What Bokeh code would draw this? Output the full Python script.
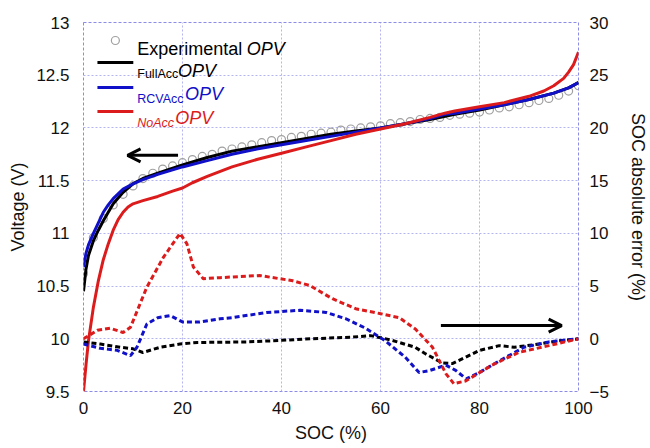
from bokeh.plotting import figure
from bokeh.models import (Range1d, LinearAxis, FixedTicker, Arrow, OpenHead, Label)
from bokeh.embed import file_html
from bokeh.resources import INLINE

# ---- terminal voltage curves (left axis, V) ----
soc_full = [0, 0.5, 1, 2, 3, 4, 5, 6, 8, 10, 12, 15, 20, 25, 30, 35, 40, 45, 50, 55,
            60, 65, 70, 75, 80, 85, 90, 95, 98, 100]
v_full = [10.45, 10.66, 10.79, 10.93, 11.03, 11.12, 11.20, 11.28, 11.39, 11.47, 11.52,
          11.57, 11.65, 11.72, 11.78, 11.82, 11.86, 11.90, 11.94, 11.97, 12.00, 12.04,
          12.08, 12.13, 12.17, 12.22, 12.27, 12.33, 12.38, 12.43]

soc_rcv = [0, 0.5, 1, 2, 3, 4, 5, 6, 8, 10, 12, 15, 20, 25, 30, 35, 40, 45, 50, 55,
           60, 65, 70, 73, 75, 80, 85, 90, 95, 98, 100]
v_rcv = [10.68, 10.81, 10.89, 11.00, 11.10, 11.20, 11.27, 11.33, 11.42, 11.47, 11.51,
         11.56, 11.63, 11.69, 11.75, 11.80, 11.84, 11.88, 11.92, 11.96, 12.00, 12.04,
         12.09, 12.13, 12.14, 12.18, 12.22, 12.27, 12.33, 12.38, 12.43]

soc_no = [0, 0.5, 1, 2, 3, 4, 5, 6, 7, 8, 9, 10, 12, 15, 18, 20, 22, 25, 30, 35, 40,
          45, 50, 55, 60, 65, 70, 73, 75, 80, 85, 90, 93, 95, 97, 98, 99, 100]
v_no = [9.50, 9.75, 9.98, 10.30, 10.55, 10.75, 10.90, 11.03, 11.13, 11.20, 11.25, 11.28,
        11.31, 11.35, 11.40, 11.43, 11.48, 11.54, 11.63, 11.70, 11.76, 11.82, 11.88,
        11.94, 11.99, 12.04, 12.10, 12.14, 12.16, 12.20, 12.24, 12.30, 12.35, 12.40,
        12.47, 12.53, 12.60, 12.72]

soc_exp = [0, 2, 4, 6, 8, 10, 12, 14, 16, 18, 20, 22, 24, 26, 28, 30, 32, 34, 36, 38,
           40, 42, 44, 46, 48, 50, 52, 54, 56, 58, 60, 62, 64, 66, 68, 70, 72, 74, 76,
           78, 80, 82, 84, 86, 88, 90, 92, 94, 96, 98, 100]
v_exp = [10.62, 10.96, 11.14, 11.27, 11.37, 11.45, 11.52, 11.57, 11.61, 11.64, 11.67,
         11.70, 11.73, 11.75, 11.78, 11.80, 11.82, 11.84, 11.86, 11.88, 11.89, 11.91,
         11.92, 11.94, 11.95, 11.96, 11.98, 11.99, 12.00, 12.01, 12.02, 12.04, 12.05,
         12.06, 12.08, 12.09, 12.10, 12.12, 12.13, 12.14, 12.15, 12.17, 12.19, 12.20,
         12.22, 12.24, 12.26, 12.28, 12.31, 12.35, 12.40]

# ---- SOC absolute error (right axis, %) ----
soc_err_full = [0, 3.4, 7.4, 10, 12, 15.5, 19.5, 23, 33, 40, 46, 54, 58, 62, 67, 69,
                72.5, 74.5, 77, 80, 84, 87, 92, 96, 100]
err_full = [-0.3, -0.5, -0.8, -0.95, -1.3, -0.8, -0.5, -0.35, -0.3, -0.15, 0.0, 0.15,
            0.3, -0.1, -0.8, -1.4, -2.3, -2.35, -1.8, -1.1, -0.65, -0.8, -0.5, -0.2, 0.0]

soc_err_rcv = [0, 3.4, 6.8, 9.5, 10.8, 12.8, 15, 17.5, 20, 23.5, 27.6, 30, 37, 43.7, 49,
               53, 57, 61, 65, 67.8, 70, 73.2, 75.2, 77.3, 80, 84, 89, 94, 100]
err_rcv = [-0.5, -0.9, -1.1, -1.6, -0.8, 1.4, 2.0, 2.2, 1.6, 1.6, 1.9, 2.0, 2.5, 2.7,
           2.5, 1.9, 1.0, -0.2, -1.75, -3.2, -3.0, -2.5, -3.0, -3.8, -3.2, -2.1, -0.8,
           -0.3, 0.0]

soc_err_no = [0, 2.8, 5.4, 8, 9.5, 12.8, 16.1, 19.5, 20.9, 22.2, 24.2, 27.6, 35.6, 42.3,
              45.7, 50.3, 55, 59.8, 63.8, 67.1, 70.5, 73.2, 74.8, 77.2, 82.5, 87.9, 94,
              100]
err_no = [0.0, 0.8, 1.0, 0.6, 1.1, 4.9, 7.7, 10.0, 9.0, 6.8, 5.7, 5.8, 6.0, 5.5, 5.05,
          3.8, 2.85, 2.4, 2.0, 0.9, -0.8, -3.3, -4.25, -4.0, -2.5, -1.3, -0.65, 0.0]

x_ticks = [0, 20, 40, 60, 80, 100]
v_ticks = [9.5, 10, 10.5, 11, 11.5, 12, 12.5, 13]
v_tick_labels = ["9.5", "10", "10.5", "11", "11.5", "12", "12.5", "13"]
err_ticks = [-5, 0, 5, 10, 15, 20, 25, 30]

BLACK = "#000000"
BLUE = "#1010c8"
RED = "#dc1c1c"
GRID = "#b4b4f0"
FONT = "Liberation Sans"

W, H = 650, 448
LEFT, RIGHT, TOP, BOTTOM = 83, 70, 22, 57

p = figure(width=W, height=H, output_backend="svg", toolbar_location=None,
           x_range=Range1d(0, 100), y_range=Range1d(9.5, 13),
           min_border_left=LEFT, min_border_right=RIGHT,
           min_border_top=TOP, min_border_bottom=BOTTOM)
p.extra_y_ranges = {"err": Range1d(-5, 30)}

p.outline_line_color = "#8c8ce6"
p.outline_line_dash = "3 2"
p.outline_line_width = 1

for g in (p.xgrid, p.ygrid):
    g.grid_line_color = GRID
    g.grid_line_dash = "2 2"
    g.grid_line_width = 1
p.xgrid.ticker = FixedTicker(ticks=x_ticks)
p.ygrid.ticker = FixedTicker(ticks=v_ticks)

def style_axis(ax):
    ax.axis_line_color = None
    ax.major_tick_line_color = None
    ax.minor_tick_line_color = None
    ax.major_tick_out = 0
    ax.major_tick_in = 0
    ax.minor_tick_out = 0
    ax.major_label_text_font = FONT
    ax.major_label_text_font_size = "17px"
    ax.major_label_text_color = "#111111"
    ax.axis_label_text_font = FONT
    ax.axis_label_text_font_size = "18px"
    ax.axis_label_text_font_style = "normal"
    ax.axis_label_text_color = "#111111"

xa = p.xaxis[0]
style_axis(xa)
xa.ticker = FixedTicker(ticks=x_ticks)
xa.axis_label = "SOC (%)"
xa.major_label_standoff = 10
xa.axis_label_standoff = 6

ya = p.yaxis[0]
style_axis(ya)
ya.ticker = FixedTicker(ticks=v_ticks)
ya.major_label_overrides = {t: s for t, s in zip(v_ticks, v_tick_labels)}
ya.axis_label = "Voltage (V)"
ya.major_label_standoff = 14
ya.axis_label_standoff = 5

ra = LinearAxis(y_range_name="err", ticker=FixedTicker(ticks=err_ticks),
                axis_label="SOC absolute error (%)")
style_axis(ra)
ra.major_label_standoff = 11
ra.axis_label_standoff = 16
p.add_layout(ra, "right")

# experimental points
p.scatter(soc_exp, v_exp, marker="circle", size=8, fill_color=None,
          line_color="#a0a0a0", line_width=1.2)

# model voltage curves
p.line(soc_full, v_full, line_color=BLACK, line_width=3)
p.line(soc_rcv, v_rcv, line_color=BLUE, line_width=3)
p.line(soc_no, v_no, line_color=RED, line_width=3)

# SOC error curves
dash = "5 3"
p.line(soc_err_full, err_full, y_range_name="err", line_color=BLACK, line_width=3, line_dash=dash)
p.line(soc_err_rcv, err_rcv, y_range_name="err", line_color=BLUE, line_width=3, line_dash=dash)
p.line(soc_err_no, err_no, y_range_name="err", line_color=RED, line_width=3, line_dash=dash)

# axis-pointing arrows
p.add_layout(Arrow(x_start=19.1, y_start=11.74, x_end=8.9, y_end=11.74,
                   line_width=3, line_color=BLACK,
                   end=OpenHead(size=13, line_width=3, line_color=BLACK)))
p.add_layout(Arrow(x_start=72.2, y_start=1.25, x_end=96.6, y_end=1.25,
                   y_range_name="err", line_width=3, line_color=BLACK,
                   end=OpenHead(size=13, line_width=3, line_color=BLACK)))

# ---- hand-built legend (positions given in canvas pixels) ----
FW = W - LEFT - RIGHT
FH = H - TOP - BOTTOM

def dx(px):
    return (px - LEFT) / FW * 100.0

def dy(py):
    return 13.0 - (py - TOP) / FH * 3.5

def add_text(px, py, text, color, size, style="normal"):
    p.add_layout(Label(x=dx(px), y=dy(py), text=text, text_color=color,
                       text_font=FONT, text_font_size=size, text_font_style=style,
                       text_baseline="alphabetic", text_align="left"))

p.scatter([dx(115)], [dy(40)], marker="circle", size=8, fill_color=None,
          line_color="#a0a0a0", line_width=1.2)
add_text(137, 48, "Experimental", BLACK, "18px")
add_text(247, 48, "OPV", BLACK, "18px", "italic")

rows = [(62, BLACK, "FullAcc", "normal", 73, 178, 70),
        (87, BLUE, "RCVAcc", "normal", 98, 185, 93),
        (111, RED, "NoAcc", "italic", 122, 175, 117)]
for ly, col, sub, sub_style, sub_y, opv_x, opv_y in rows:
    p.line([dx(97), dx(133)], [dy(ly), dy(ly)], line_color=col, line_width=3)
    add_text(137, sub_y, sub, col, "12.5px", sub_style)
    add_text(opv_x, opv_y, "OPV", col, "18px", "italic")

open("out.html", "w").write(file_html(p, INLINE))
